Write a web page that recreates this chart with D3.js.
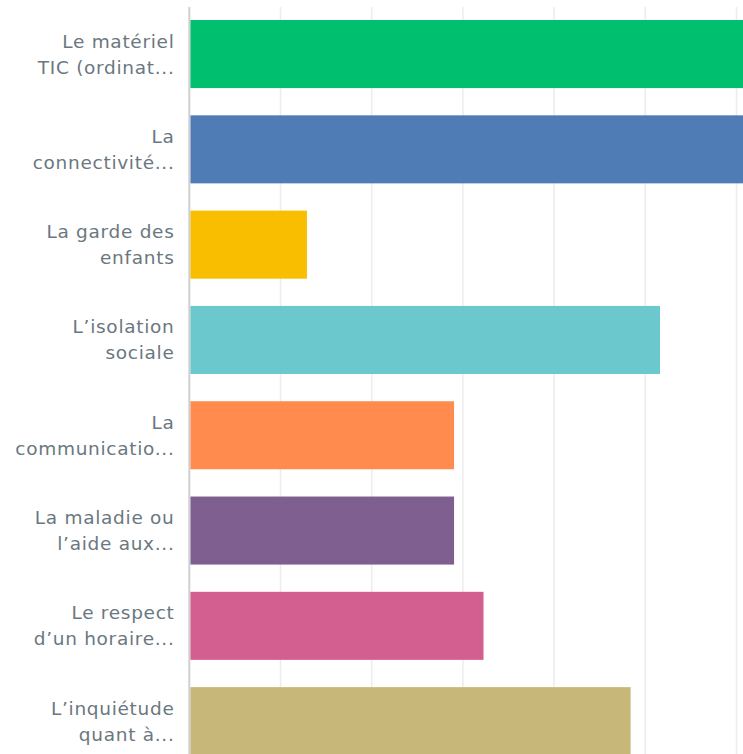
<!DOCTYPE html>
<html lang="fr">
<head>
    <meta charset="UTF-8">
    <title>Barres horizontales</title>
    <style>
        body {
            margin: 0;
            background: #fff;
            overflow: hidden;
        }
        .label {
            font-family: "DejaVu Sans", sans-serif;
            font-size: 18.5px;
            letter-spacing: 0.7px;
            fill: #6b7780;
            text-anchor: end;
        }
    </style>
</head>
<body>
<svg id="chart" width="743" height="754"></svg>

<script src="https://cdn.jsdelivr.net/npm/d3@7"></script>
<script>
    // libellés (deux lignes chacun, tronqués comme dans l'original)
    const categories = [
        ["Le matériel", "TIC (ordinat..."],
        ["La", "connectivité..."],
        ["La garde des", "enfants"],
        ["L’isolation", "sociale"],
        ["La", "communicatio..."],
        ["La maladie ou", "l’aide aux..."],
        ["Le respect", "d’un horaire..."],
        ["L’inquiétude", "quant à..."]
    ];
    // pourcentages des réponses
    const values = [70.97, 67.74, 12.90, 51.61, 29.03, 29.03, 32.26, 48.39];
    const colors = ["#00bf6f", "#507cb6", "#f9be00", "#6bc8cd", "#ff8b4f", "#7f5f90", "#d25f90", "#c7b879"];
    const ticks = [0, 10, 20, 30, 40, 50, 60, 70, 80, 90, 100];

    const svg = d3.select("#chart");
    const marginLeft = 189.3, marginTop = 6.4;

    const x = d3.scaleLinear().domain([0, 100]).range([marginLeft, marginLeft + 912]);
    const y = d3.scaleBand()
        .domain(d3.range(categories.length))
        .range([marginTop, marginTop + 762.4])
        .paddingInner(0.286)
        .paddingOuter(0.143);

    // grille verticale
    svg.append("g")
        .selectAll("line")
        .data(ticks.slice(1))
        .enter().append("line")
        .attr("x1", d => x(d))
        .attr("x2", d => x(d))
        .attr("y1", 7)
        .attr("y2", 754)
        .style("stroke", "#ececec")
        .style("stroke-width", 1.5);

    // barres
    svg.append("g")
        .selectAll("rect")
        .data(values)
        .enter().append("rect")
        .attr("x", x(0) + 1)
        .attr("y", (d, i) => y(i))
        .attr("width", d => x(d) - x(0) - 1)
        .attr("height", y.bandwidth())
        .style("fill", (d, i) => colors[i]);

    // axe gauche
    svg.append("line")
        .attr("x1", x(0))
        .attr("x2", x(0))
        .attr("y1", 7)
        .attr("y2", 754)
        .style("stroke", "#d0d0d0")
        .style("stroke-width", 2);

    // libellés
    const labels = svg.append("g")
        .selectAll("text")
        .data(categories)
        .enter().append("text")
        .attr("class", "label")
        .attr("transform", (d, i) => "translate(174.5," + (y(i) + y.bandwidth() / 2) + ")");

    labels.selectAll("tspan")
        .data(d => d)
        .enter().append("tspan")
        .attr("x", 0)
        .attr("y", (d, j) => j === 0 ? -13 : 13)
        .attr("dy", "0.35em")
        .text(d => d);
</script>
</body>
</html>
